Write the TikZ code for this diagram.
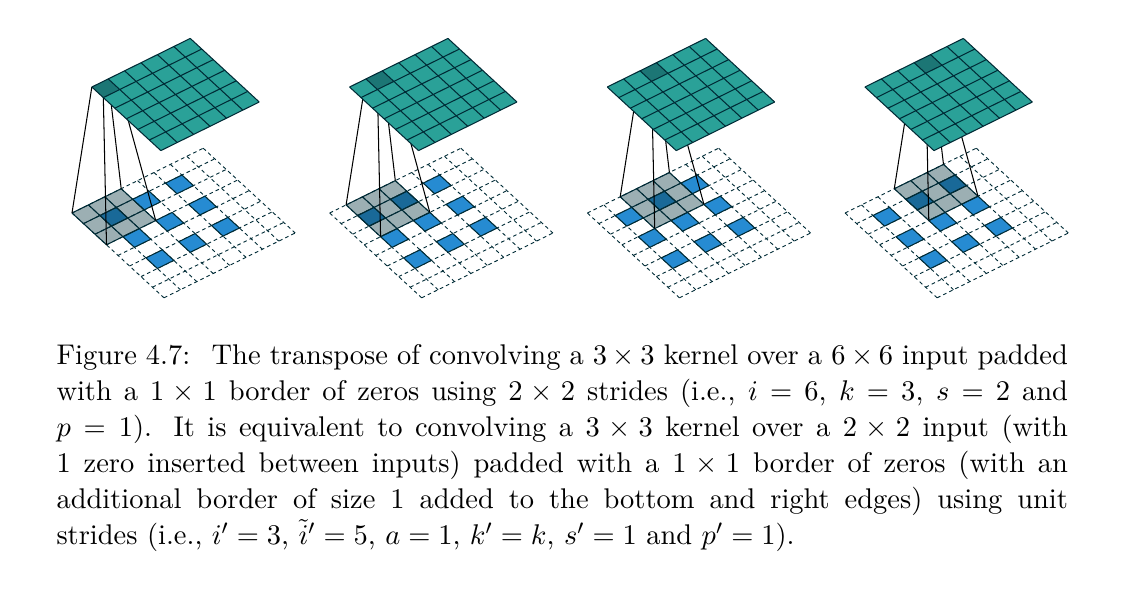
\documentclass[tikz,border=0pt]{standalone}
\usepackage{amsmath,amssymb}
\usepackage{tikz}
\usetikzlibrary{positioning}

\definecolor{solcyan}{RGB}{42,161,152}
\definecolor{solblue}{RGB}{38,139,210}
\definecolor{solbaseO2}{RGB}{7,54,66}
\definecolor{solbaseO3}{RGB}{0,43,54}

\tikzset{
  zeroline/.style={draw=solbaseO3, line width=0.35pt, dash pattern=on 1.4pt off 1.2pt},
  inputcell/.style={fill=solblue, draw=solbaseO3, line width=0.4pt},
  kernelcell/.style={fill=solbaseO2, opacity=0.4},
  kernelline/.style={draw=solbaseO3, line width=0.4pt},
  outputcell/.style={fill=solcyan},
  focuscell/.style={fill=solbaseO2, opacity=0.4},
  outputline/.style={draw=solbaseO3, line width=0.4pt},
  link/.style={draw=black, line width=0.4pt},
  caption/.style={inner sep=0pt, text width=389pt, align=justify,
    font=\fontsize{10.95}{13.85}\selectfont}
}

\begin{document}
\begin{tikzpicture}[x=0.3846pt, y=-0.3846pt]
  \useasboundingbox (0,0) rectangle (1131,610);

  \foreach \j/\px in {0/72, 1/329.7, 2/587.4, 3/845.1}{
    \begin{scope}[shift={(\px,213)}, x={(6.308pt,3.115pt)}, y={(4.423pt,-4.077pt)}, z={(-3.1pt,49.42pt)}]
      % padded input
      \foreach \n in {0,...,8}
        \draw[zeroline] (\n,0) -- (\n,8) (0,\n) -- (8,\n);
      \foreach \c in {1,3,5}
        \foreach \r in {1,3,5}
          \draw[inputcell] (\c,\r) -- ++(1,0) -- ++(0,1) -- ++(-1,0) -- cycle;
      % kernel
      \fill[kernelcell] (\j,0) -- ++(3,0) -- ++(0,3) -- ++(-3,0) -- cycle;
      \foreach \n in {0,...,3}
        \draw[kernelline] (\j+\n,0) -- (\j+\n,3) (\j,\n) -- (\j+3,\n);
      % links
      \coordinate (k1) at (\j,0,0);
      \coordinate (k2) at (\j+3,0,0);
      \coordinate (k3) at (\j,3,0);
      \coordinate (k4) at (\j+3,3,0);
      \coordinate (o1) at (\j+1,1,1);
      \coordinate (o2) at (\j+2,1,1);
      \coordinate (o3) at (\j+1,2,1);
      \coordinate (o4) at (\j+2,2,1);
      \draw[link] (o1) -- (k1);
      \draw[link] (o2) -- (k2);
      \draw[link] (o3) -- (k3);
      \draw[link] (o4) -- (k4);
      % output
      \fill[outputcell] (1,1,1) -- (7,1,1) -- (7,7,1) -- (1,7,1) -- cycle;
      \fill[focuscell] (o1) -- (o2) -- (o4) -- (o3) -- cycle;
      \foreach \n in {1,...,7}
        \draw[outputline] (\n,1,1) -- (\n,7,1) (1,\n,1) -- (7,\n,1);
    \end{scope}
  }

  \node[caption, anchor=north west] (cap) at (56,344) {Figure 4.7:\hspace{0.75em}The transpose of convolving a $3\times3$ kernel over a $6\times6$ input padded\linebreak
  with a $1 \times 1$ border of zeros using $2 \times 2$ strides (i.e., $i = 6$, $k = 3$, $s = 2$ and\linebreak
  $p = 1$). It is equivalent to convolving a $3 \times 3$ kernel over a $2 \times 2$ input (with\linebreak
  1 zero inserted between inputs) padded with a $1 \times 1$ border of zeros (with an\linebreak
  additional border of size 1 added to the bottom and right edges) using unit\linebreak
  strides (i.e., $i' = 3$, $\tilde{i}' = 5$, $a = 1$, $k' = k$, $s' = 1$ and $p' = 1$).};
\end{tikzpicture}
\end{document}
